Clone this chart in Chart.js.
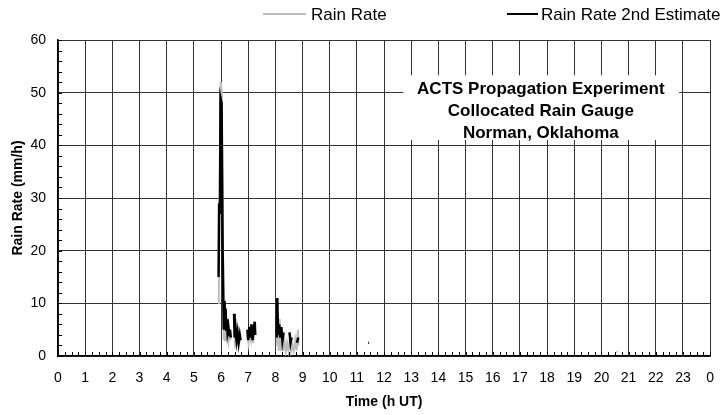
<!DOCTYPE html>
<html>
<head>
<meta charset="utf-8">
<script src="https://cdn.jsdelivr.net/npm/chart.js@4"></script>
<style>
  html, body { margin: 0; padding: 0; background: #fff; }
  #wrap { width: 728px; height: 415px; }
</style>
</head>
<body>
<div id="wrap"><canvas id="rainChart" width="728" height="415"></canvas></div>
<script>
// hours UT, null = gap in the record
const rainTime = [5.89, 5.92, 5.95, 5.99, 6.03, 6.07, 6.10, 6.13, 6.15, 6.18, 6.21, 6.24, 6.28, 6.31, 6.35, null,
    6.48, 6.51, 6.55, 6.60, 6.65, 6.70, null,
    6.97, 7.01, 7.05, 7.10, 7.14, 7.18, 7.22, 7.25, null,
    8.05, 8.08, 8.12, 8.16, 8.20, 8.24, 8.28, 8.33, 8.38, 8.43, 8.48, 8.53, 8.58, 8.63, 8.68, 8.73, 8.78, 8.83, 8.85, null,
    20.55, 20.60]
const rainRate = [10, 15, 28, 52, 50, 22, 3, 8, 3, 7, 4, 5, 3, 4.5, 3, null,
    6, 3, 4, 2.5, 3.5, 2.5, null,
    4, 2.5, 4.5, 3, 5, 2.5, 4.5, 5.5, null,
    2, 8, 1, 7, 1, 5, 1, 3, 0.8, 2.5, 1, 3, 0.8, 2, 1, 3, 1, 5, 2, null,
    0.8, 0.8]

const est2Time = [5.91, 5.93, 5.96, 5.98, 6.02, 6.06, 6.10, 6.13, 6.15, 6.17, 6.19, 6.21, 6.24, 6.27, 6.30, 6.33, 6.36, null,
    6.48, 6.50, 6.54, 6.57, 6.61, 6.65, 6.69, 6.72, null,
    6.97, 7.00, 7.04, 7.08, 7.12, 7.16, 7.20, 7.24, 7.26, null,
    8.05, 8.07, 8.10, 8.14, 8.18, 8.22, 8.26, 8.30, null,
    8.52, 8.56, 8.60, null,
    8.80, 8.84, null,
    11.42, 11.45]
const est2Rate = [15, 29, 27, 49, 48, 20, 5, 10.5, 6, 9, 5, 7, 4.5, 5.5, 4, 5, 3.5, null,
    8, 3.5, 5, 3, 4.5, 2.5, 4, 3, null,
    5, 3, 5.5, 3.5, 6, 3, 5, 6.5, 4, null,
    3.5, 11, 4, 6, 3.5, 5.5, 3, 4.5, null,
    4.5, 2.5, 3.5, null,
    2.5, 3.5, null,
    2.5, 2.5]

const xTicks = [0, 24]
const yTicks = [0, 60]
const seriesNames = ["Rain Rate", "Rain Rate 2nd Estimate"]
const noteLines = ["ACTS Propagation Experiment", "Collocated Rain Gauge", "Norman, Oklahoma"]

function toPoints(times, rates) {
    return times.map((t, i) => t === null ? { x: NaN, y: null } : { x: t, y: rates[i] })
}

const FONT = "'Liberation Sans', Arial, Helvetica, sans-serif"

// inside minor ticks + white note box + legend
const extras = {
    id: "extras",
    beforeDatasetsDraw(chart) {
        const ctx = chart.ctx
        const xs = chart.scales.x
        const ys = chart.scales.y
        const area = chart.chartArea

        ctx.save()
        ctx.strokeStyle = "#000"
        ctx.lineWidth = 1
        ctx.beginPath()
        for (let h = 0; h <= 24; h += 0.25) {
            const px = Math.round(xs.getPixelForValue(h)) + 0.5
            ctx.moveTo(px, area.bottom)
            ctx.lineTo(px, area.bottom - 4)
        }
        for (let v = 0; v <= 60; v += 2) {
            const py = Math.round(ys.getPixelForValue(v)) + 0.5
            ctx.moveTo(area.left, py)
            ctx.lineTo(area.left + 4, py)
        }
        ctx.stroke()

        // note box
        const bx0 = xs.getPixelForValue(12.71)
        const bx1 = xs.getPixelForValue(22.86)
        const by0 = ys.getPixelForValue(53.3)
        const by1 = ys.getPixelForValue(41)
        ctx.fillStyle = "#fff"
        ctx.fillRect(bx0, by0, bx1 - bx0, by1 - by0)

        ctx.fillStyle = "#000"
        ctx.font = "bold 17px " + FONT
        ctx.textAlign = "center"
        ctx.textBaseline = "middle"
        const cx = xs.getPixelForValue(17.77)
        noteLines.forEach((line, i) => {
            ctx.fillText(line, cx, 89 + i * 22)
        })
        ctx.restore()
    },
    afterDraw(chart) {
        const ctx = chart.ctx
        ctx.save()
        ctx.font = "17px " + FONT
        ctx.textBaseline = "middle"
        ctx.textAlign = "left"
        ctx.lineWidth = 2

        ctx.strokeStyle = "#bdbdbd"
        ctx.beginPath()
        ctx.moveTo(263, 14)
        ctx.lineTo(306, 14)
        ctx.stroke()
        ctx.fillStyle = "#000"
        ctx.fillText(seriesNames[0], 311, 15)

        ctx.strokeStyle = "#000"
        ctx.beginPath()
        ctx.moveTo(507, 14)
        ctx.lineTo(538, 14)
        ctx.stroke()
        ctx.fillText(seriesNames[1], 541, 15)
        ctx.restore()
    }
}

const chart = new Chart(document.getElementById("rainChart"), {
    type: "line",
    data: {
        datasets: [
            {
                label: seriesNames[1],
                data: toPoints(est2Time, est2Rate),
                borderColor: "#000",
                borderWidth: 2.5,
                pointRadius: 0,
                spanGaps: false,
                tension: 0,
                order: 0
            },
            {
                label: seriesNames[0],
                data: toPoints(rainTime, rainRate),
                borderColor: "#bdbdbd",
                borderWidth: 2,
                pointRadius: 0,
                spanGaps: false,
                tension: 0,
                order: 1
            }
        ]
    },
    options: {
        responsive: false,
        animation: false,
        devicePixelRatio: 1,
        layout: { padding: { top: 40, right: 15, left: 0, bottom: 0 } },
        plugins: {
            legend: { display: false },
            tooltip: { enabled: false }
        },
        scales: {
            x: {
                type: "linear",
                min: xTicks[0],
                max: xTicks[1],
                afterFit(scale) { scale.height = 59 },
                ticks: {
                    stepSize: 1,
                    color: "#000",
                    font: { family: FONT, size: 14 },
                    padding: 14,
                    maxRotation: 0,
                    autoSkip: false,
                    callback: v => String(v % 24)
                },
                grid: { color: "#333", lineWidth: 1, drawTicks: false },
                border: { color: "#000", width: 1.5 },
                title: {
                    display: true,
                    text: "Time (h UT)",
                    color: "#000",
                    font: { family: FONT, size: 14, weight: "bold" },
                    padding: { top: 4, bottom: 4 }
                }
            },
            y: {
                type: "linear",
                min: yTicks[0],
                max: yTicks[1],
                afterFit(scale) { scale.width = 58 },
                ticks: {
                    stepSize: 10,
                    color: "#000",
                    font: { family: FONT, size: 14 },
                    padding: 12
                },
                grid: { color: "#333", lineWidth: 1, drawTicks: false },
                border: { color: "#000", width: 1.5 },
                title: {
                    display: true,
                    text: "Rain Rate (mm/h)",
                    color: "#000",
                    font: { family: FONT, size: 14, weight: "bold" },
                    padding: { top: 10, bottom: 4 }
                }
            }
        }
    },
    plugins: [extras]
})
</script>
</body>
</html>
